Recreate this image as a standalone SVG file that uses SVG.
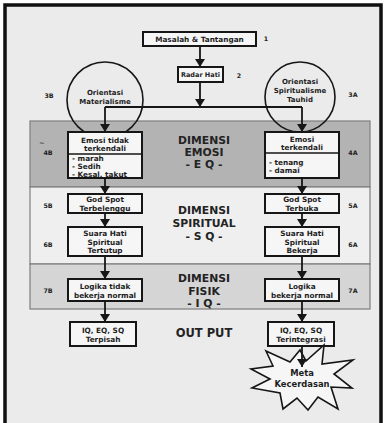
<svg xmlns="http://www.w3.org/2000/svg" width="386" height="423" viewBox="0 0 386 423">
<defs>
<marker id="ah" viewBox="0 0 8 10" refX="8" refY="5" markerWidth="8.5" markerHeight="10.5" markerUnits="userSpaceOnUse" orient="auto">
<path d="M0,0 L8,5 L0,10 z" fill="#161616"/>
</marker>
<style>
.bx{fill:#f6f6f6;stroke:#161616;stroke-width:2}
.dv{stroke:#161616;stroke-width:1.5}
.cir{fill:none;stroke:#161616;stroke-width:1.6}
.band{stroke:#7e7e7e;stroke-width:1.2}
.t{font-family:"DejaVu Sans","Liberation Sans",sans-serif;font-weight:bold;font-size:7.3px;fill:#1e1e1e;text-anchor:middle;dominant-baseline:central}
.s{text-anchor:start}
.c{font-size:7px}
.rh{font-size:6.5px}
.lab{font-size:6.3px}
.ti{font-size:10.8px;fill:#232323}
.op{font-size:11.5px}
.mk{font-size:8.4px}
.ln{stroke:#161616;stroke-width:1.8;fill:none}
.ar{marker-end:url(#ah)}
</style>
</defs>
<rect x="0" y="0" width="386" height="423" fill="#ffffff"/>
<rect x="5" y="5" width="376" height="430" fill="#ebebeb" stroke="#111111" stroke-width="3.5"/>

<g id="bands">
<rect class="band" x="30" y="121" width="340" height="66" fill="#b3b3b3"/>
<rect class="band" x="30" y="187" width="340" height="77" fill="#efefef"/>
<rect class="band" x="30" y="264" width="340" height="45" fill="#d5d5d5"/>
<text class="t ti" x="204" y="140">DIMENSI</text>
<text class="t ti" x="204" y="152">EMOSI</text>
<text class="t ti" x="204" y="164">- E Q -</text>
<text class="t ti" x="204" y="210">DIMENSI</text>
<text class="t ti" x="204" y="223">SPIRITUAL</text>
<text class="t ti" x="204" y="236">- S Q -</text>
<text class="t ti" x="204" y="278">DIMENSI</text>
<text class="t ti" x="204" y="291">FISIK</text>
<text class="t ti" x="204" y="303">- I Q -</text>
<text class="t ti op" x="204" y="333">OUT PUT</text>
</g>

<g id="masalah">
<rect class="bx" x="143" y="32" width="113" height="14"/>
<text class="t" x="199.5" y="39">Masalah &amp; Tantangan</text>
<text class="t lab" x="266" y="38">1</text>
</g>
<g id="radar">
<rect class="bx" x="178" y="67" width="45" height="15"/>
<text class="t rh" x="200.5" y="74.5">Radar Hati</text>
<text class="t lab" x="239" y="75">2</text>
</g>
<g id="orientasi-materialisme">
<circle class="cir" cx="105" cy="100" r="38"/>
<text class="t c" x="105" y="93">Orientasi</text>
<text class="t c" x="105" y="102">Materialisme</text>
<text class="t lab" x="49" y="95">3B</text>
</g>
<g id="orientasi-spiritualisme">
<circle class="cir" cx="300" cy="97" r="35"/>
<text class="t c" x="300" y="82">Orientasi</text>
<text class="t c" x="300" y="91">Spiritualisme</text>
<text class="t c" x="300" y="100">Tauhid</text>
<text class="t lab" x="353" y="94">3A</text>
</g>

<g id="emosi-tidak">
<rect class="bx" x="68" y="132" width="74" height="46"/>
<line class="dv" x1="68" y1="154" x2="142" y2="154"/>
<text class="t" x="105" y="140">Emosi tidak</text>
<text class="t" x="105" y="148">terkendali</text>
<text class="t s" x="72" y="158">- marah</text>
<text class="t s" x="72" y="166">- Sedih</text>
<text class="t s" x="72" y="174">- Kesal, takut</text>
<text class="t lab" x="42" y="142">~</text>
<text class="t lab" x="48" y="152">4B</text>
</g>
<g id="emosi-terkendali">
<rect class="bx" x="265" y="132" width="74" height="46"/>
<line class="dv" x1="265" y1="153" x2="339" y2="153"/>
<text class="t" x="302" y="139">Emosi</text>
<text class="t" x="302" y="147">terkendali</text>
<text class="t s" x="269" y="162">- tenang</text>
<text class="t s" x="269" y="170">- damai</text>
<text class="t lab" x="353" y="152">4A</text>
</g>

<g id="godspot-terbelenggu">
<rect class="bx" x="68" y="194" width="74" height="19"/>
<text class="t" x="105" y="199.5">God Spot</text>
<text class="t" x="105" y="208">Terbelenggu</text>
<text class="t lab" x="48" y="205">5B</text>
</g>
<g id="godspot-terbuka">
<rect class="bx" x="265" y="194" width="74" height="19"/>
<text class="t" x="302" y="199.5">God Spot</text>
<text class="t" x="302" y="208">Terbuka</text>
<text class="t lab" x="353" y="205">5A</text>
</g>

<g id="suara-tertutup">
<rect class="bx" x="68" y="227" width="74" height="29"/>
<text class="t" x="105" y="233.5">Suara Hati</text>
<text class="t" x="105" y="242">Spiritual</text>
<text class="t" x="105" y="250.5">Tertutup</text>
<text class="t lab" x="48" y="244">6B</text>
</g>
<g id="suara-bekerja">
<rect class="bx" x="265" y="227" width="74" height="29"/>
<text class="t" x="302" y="233.5">Suara Hati</text>
<text class="t" x="302" y="242">Spiritual</text>
<text class="t" x="302" y="250.5">Bekerja</text>
<text class="t lab" x="353" y="244">6A</text>
</g>

<g id="logika-tidak">
<rect class="bx" x="68" y="279" width="74" height="22"/>
<text class="t" x="105" y="286">Logika tidak</text>
<text class="t" x="105" y="295">bekerja normal</text>
<text class="t lab" x="48" y="290">7B</text>
</g>
<g id="logika-normal">
<rect class="bx" x="265" y="279" width="74" height="22"/>
<text class="t" x="302" y="286">Logika</text>
<text class="t" x="302" y="295">bekerja normal</text>
<text class="t lab" x="353" y="290">7A</text>
</g>

<g id="output-terpisah">
<rect class="bx" x="70" y="322" width="66" height="24"/>
<text class="t" x="103" y="330">IQ, EQ, SQ</text>
<text class="t" x="103" y="339">Terpisah</text>
</g>
<g id="output-terintegrasi">
<rect class="bx" x="268" y="322" width="66" height="24"/>
<text class="t" x="301" y="330">IQ, EQ, SQ</text>
<text class="t" x="301" y="339">Terintegrasi</text>
</g>

<g id="meta-kecerdasan">
<polygon points="266,351 290,362 300,350 306,361 324,345 322,364 353,360 334,374 352,388 331,387 338,409 318,397 308,410 297,398 283,409 280,393 252,388 270,379 251,369 273,366" fill="#f6f6f6" stroke="#161616" stroke-width="1.6" stroke-linejoin="miter"/>
<text class="t mk" x="302" y="373">Meta</text>
<text class="t mk" x="302" y="384">Kecerdasan</text>
</g>

<g id="connectors">
<path class="ln ar" d="M200,46 V67"/>
<path class="ln ar" d="M200,82 V107"/>
<path class="ln" d="M105,107 H302"/>
<path class="ln ar" d="M105,107 V132"/>
<path class="ln ar" d="M302,107 V132"/>
<path class="ln ar" d="M105,178 V194"/>
<path class="ln ar" d="M302,178 V194"/>
<path class="ln ar" d="M105,213 V227"/>
<path class="ln ar" d="M302,213 V227"/>
<path class="ln ar" d="M105,256 V279"/>
<path class="ln ar" d="M302,256 V279"/>
<path class="ln ar" d="M105,301 V322"/>
<path class="ln ar" d="M302,301 V322"/>
<path class="ln ar" d="M302,346 V367"/>
</g>
</svg>
